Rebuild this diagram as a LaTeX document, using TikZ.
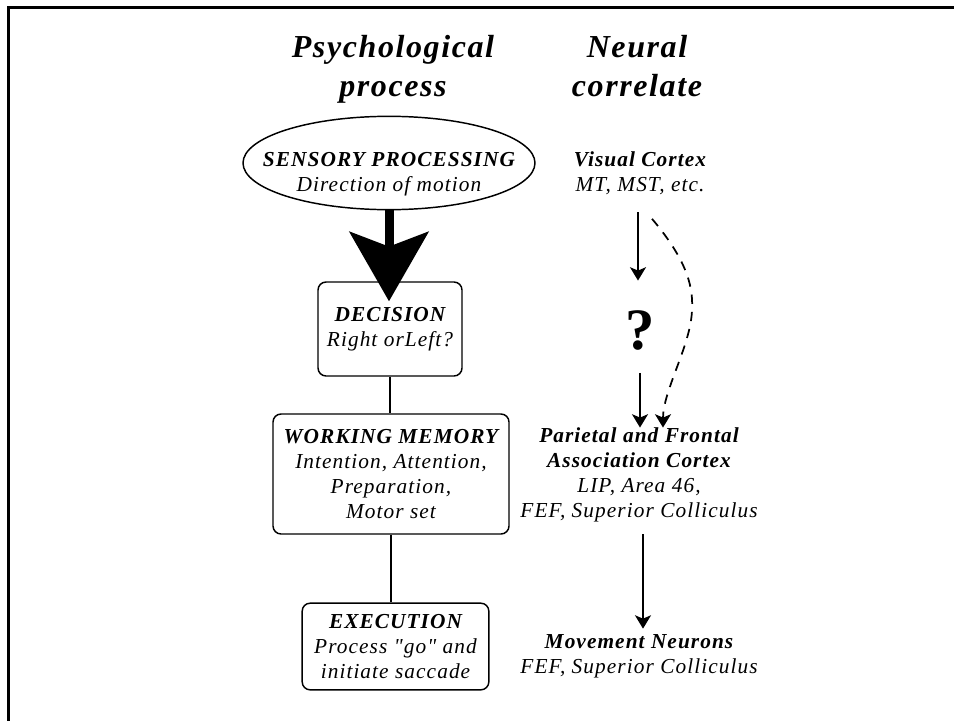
\documentclass[tikz,border=0pt]{standalone}
\usepackage{fontspec}
\setmainfont{Liberation Serif}[LetterSpace=5]
\usetikzlibrary{arrows.meta, shapes.geometric}

\begin{document}
\begin{tikzpicture}[
    x=0.75pt, y=-0.75pt,
    every node/.style={font=\itshape\fontsize{16}{18.75}\selectfont,
                align=center, inner sep=0pt},
    head/.style={font=\bfseries\itshape\fontsize{24}{29.25}\selectfont, anchor=north},
    oval/.style={draw, ellipse, line width=1.1pt,
                minimum width=219pt, minimum height=70pt},
    box/.style={draw, rounded corners=6pt, line width=1.1pt},
    arr/.style={-{Stealth[length=10pt, width=12pt, inset=2.5pt]}, line width=1.3pt},
    dasharr/.style={arr, dash pattern=on 7pt off 6pt},
    bigarr/.style={-{Stealth[length=52pt, width=59pt, inset=11pt]}, line width=6.75pt},
    link/.style={line width=1.1pt},
]
\useasboundingbox (0,0) rectangle (954,721);
\draw[line width=2.25pt] (8.5,721) -- (8.5,7.5) -- (954,7.5);

% column heads
\node[head] (psyhead) at (393, 35) {Psychological\\process};
\node[head] (neuhead) at (637, 35) {Neural\\correlate};

% psychological process
\node[oval] (sense) at (389, 163) {};
\node (sensetxt) at (389, 174) {\textbf{SENSORY PROCESSING}\\Direction of motion};
\node[box, minimum width=108pt, minimum height=70.5pt] (decision) at (390, 329)
    {\textbf{DECISION}\\Right orLeft?};
\node[box, minimum width=177pt, minimum height=90pt] (wm) at (391, 474)
    {\textbf{WORKING MEMORY}\\Intention, Attention,\\Preparation,\\Motor set};
\node[box, minimum width=140pt, minimum height=65pt] (exec) at (395.5, 646.5)
    {\textbf{EXECUTION}\\Process {\addfontfeature{Ligatures=TeXOff}"go"} and\\initiate saccade};

% neural correlate
\node (visual) at (640, 173) {\textbf{Visual Cortex}\\MT, MST, etc.};
\node[font=\bfseries\fontsize{44}{44}\selectfont] (quest) at (640, 330) {?};
\node (parietal) at (639, 475)
    {\textbf{Parietal and Frontal}\\\textbf{Association Cortex}\\LIP, Area 46,\\FEF, Superior Colliculus};
\node (movement) at (639, 656) {\textbf{Movement Neurons}\\FEF, Superior Colliculus};

\draw[bigarr, shorten >=-15pt] (sense.south) -- (sense.south |- decision.north);
\draw[link] (decision.south) -- (decision.south |- wm.north);
\draw[link] (wm.south) -- (wm.south |- exec.north);

\draw[arr, shorten <=13pt, shorten >=22pt] ([xshift=-1.5pt]visual.south) -- ([xshift=-1.5pt]quest.north);
\draw[arr, shorten <=17pt] (quest.south) -- (quest.south |- parietal.north);
\draw[arr, shorten <=9pt, shorten >=4pt] ([xshift=3pt]parietal.south) -- ([xshift=3pt]movement.north);
\coordinate (bend) at (692, 310);
\draw[dasharr] ([shift={(12,24)}]visual.south) .. controls +(38,45) and +(1,-20) .. (bend)
    .. controls +(-1,35) and +(0,-37) .. ([xshift=18pt]parietal.north);
\end{tikzpicture}
\end{document}
